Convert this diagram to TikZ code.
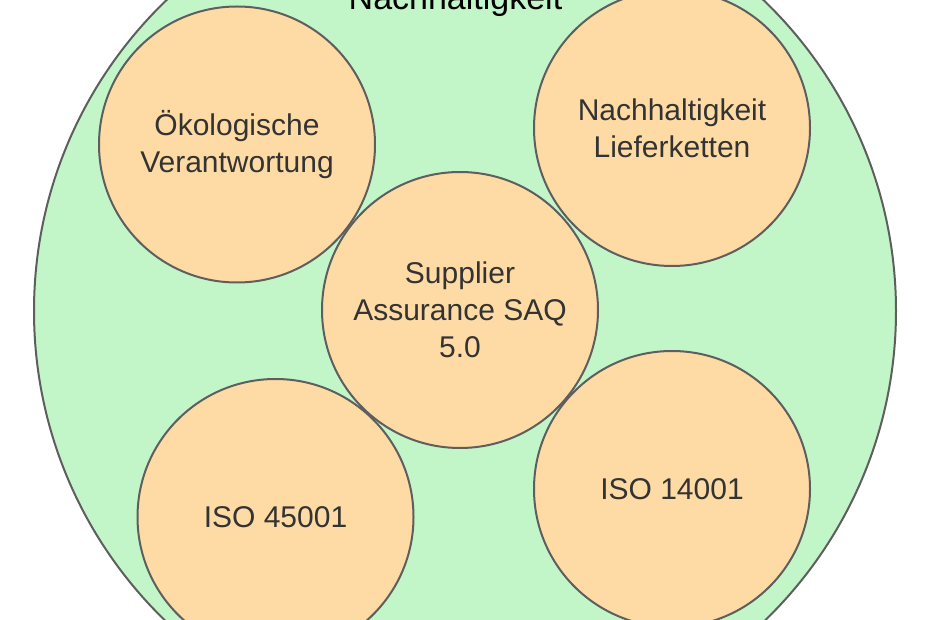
\documentclass[tikz,border=0pt]{standalone}
\usepackage{fontspec}
\setmainfont{Liberation Sans}
\definecolor{bigfill}{HTML}{C2F6C9}
\definecolor{smallfill}{HTML}{FEDBA4}
\definecolor{rim}{HTML}{5E5E5E}
\definecolor{txt}{HTML}{333333}
\begin{document}
\begin{tikzpicture}[x=1pt,y=-1pt,
  bigcirc/.style={circle, draw=rim, line width=2pt, fill=bigfill, minimum size=862pt, inner sep=0pt},
  topic/.style={circle, draw=rim, line width=2pt, fill=smallfill, minimum size=276pt, inner sep=0pt,
    align=center, text=txt, font=\fontsize{30}{37}\selectfont},
  titletext/.style={anchor=base, text=black, font=\fontsize{34}{40}\selectfont, inner sep=0pt}]
\useasboundingbox (0,0) rectangle (930,620);
\clip (0,0) rectangle (930,620);
\node[bigcirc] (outer) at (465,311) {};
\node[titletext] (title) at (455.5,10) {Nachhaltigkeit};
\node[topic] (oeko) at (237,144.5) {Ökologische\\Verantwortung};
\node[topic] (liefer) at (672,128) {Nachhaltigkeit\\Lieferketten};
\node[topic] (saq) at (460,310) {Supplier\\Assurance SAQ\\5.0};
\node[topic] (iso45) at (275.5,517) {ISO 45001};
\node[topic] (iso14) at (672,489) {ISO 14001};
\end{tikzpicture}
\end{document}
